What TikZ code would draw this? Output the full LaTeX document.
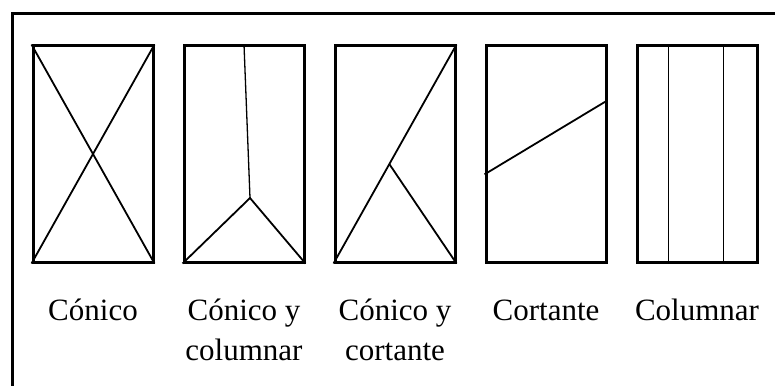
\documentclass[tikz,border=0pt]{standalone}
\usepackage{fontspec}
\setmainfont{Liberation Serif}
\usetikzlibrary{calc}

\begin{document}
\begin{tikzpicture}[
  x=1pt, y=-1pt,
  every node/.style={align=center},
  ventana/.style={draw=black, line width=3pt, inner sep=0pt,
                  minimum width=120pt, minimum height=216pt},
  grieta/.style={draw=black, line width=1.8pt},
  fina/.style={draw=black, line width=1.3pt},
  marco/.style={draw=black, line width=3pt},
  lbl/.style={font=\fontsize{31}{40}\selectfont, inner sep=0pt, anchor=base},
]
\useasboundingbox (0,0) rectangle (775,385);
\clip (0,0) rectangle (775,385);

% ---------- frame ----------
\draw[marco] (12.5,420) -- (12.5,14) -- (800,14);

% ---------- the five panels and their names ----------
% (label anchored on the baseline of its last line)
\foreach \i/\name/\nl in {
  1/{Cónico}/1,
  2/{Cónico y\\columnar}/2,
  3/{Cónico y\\cortante}/2,
  4/{Cortante}/1,
  5/{Columnar}/1} {
  \node[ventana] (v\i) at ({93+(\i-1)*151},154) {};
  \node[lbl] (l\i) at ({93+(\i-1)*151},{320+(\nl-1)*40}) {\name};
}

% ---------- crack patterns ----------
% conico
\draw[grieta] (v1.north west) -- (v1.south east);
\draw[grieta] (v1.north east) -- (v1.south west);

% conico y columnar
\coordinate (y2) at ($(v2.center)+(6,44)$);
\draw[fina] (v2.north) -- (y2);
\draw[grieta] (v2.south west) -- (y2) -- (v2.south east);

% conico y cortante
\coordinate (k3) at ($(v3.south west)!0.454!(v3.north east)$);
\draw[grieta] (v3.south west) -- (v3.north east);
\draw[grieta] (k3) -- (v3.south east);

% cortante
\draw[grieta] ($(v4.north west)!0.593!(v4.south west)$)
  -- ($(v4.north east)!0.255!(v4.south east)$);

% columnar
\foreach \f in {0.267,0.717} {
  \draw[fina] ($(v5.north west)!\f!(v5.north east)$)
    -- ($(v5.south west)!\f!(v5.south east)$);
}
\end{tikzpicture}
\end{document}
